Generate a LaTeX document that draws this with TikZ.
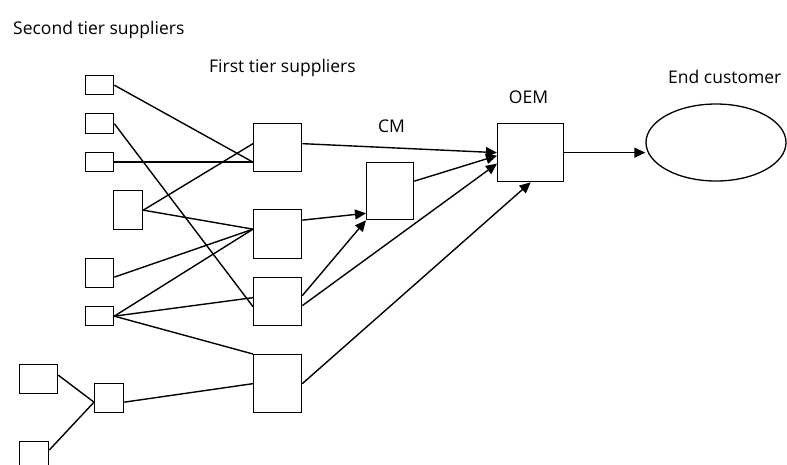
\documentclass[tikz,border=0pt]{standalone}
\usepackage{fontspec}
\setmainfont{Open Sans}
\usetikzlibrary{arrows.meta,shapes.geometric}
\tikzset{
  box/.style={draw,line width=1.3pt,inner sep=0pt,anchor=north west},
  smallbox/.style={box,minimum width=28pt,minimum height=19pt},
  midbox/.style={box,minimum width=28pt,minimum height=29pt},
  tierbox/.style={box,minimum width=48pt,minimum height=48pt},
  link/.style={line width=1.4pt},
  arrow/.style={-{Triangle[length=11pt,width=10pt]},line width=1.4pt},
  lbl/.style={font=\fontsize{17.5}{21}\selectfont,inner sep=0pt}
}

\begin{document}
\begin{tikzpicture}[x=1pt,y=-1pt]
\useasboundingbox (0,0) rectangle (787,464);
\clip (0,0) rectangle (787,464);

% Labels
\node[lbl,anchor=base west] (secondLbl) at (13,34.3) {Second tier suppliers};
\node[lbl,anchor=base west] (firstLbl) at (209,72.7) {First tier suppliers};
\node[lbl,anchor=base] (cmLbl) at (391.5,132) {CM};
\node[lbl,anchor=base] (oemLbl) at (528.5,103) {OEM};
\node[lbl,anchor=base west] (custLbl) at (668,83) {End customer};

% Second tier
\node[smallbox] (s1) at (85,75) {};
\node[smallbox,minimum height=20pt] (s2) at (85,113) {};
\node[smallbox] (s3) at (85,152) {};
\node[box,minimum width=29pt,minimum height=39pt] (s4) at (113,190) {};
\node[midbox] (s5) at (85,258) {};
\node[smallbox] (s6) at (85,306) {};
\node[box,minimum width=38pt,minimum height=29pt] (a1) at (19,364) {};
\node[midbox,minimum width=29pt,minimum height=30pt] (a2) at (19,441) {};
\node[midbox,minimum width=29pt] (m) at (94,383) {};

% First tier
\node[tierbox] (t1) at (253,123) {};
\node[tierbox,minimum height=49pt] (t2) at (253,209) {};
\node[tierbox] (t3) at (253,277) {};
\node[tierbox,minimum height=58pt] (t4) at (253,354) {};

% CM, OEM, customer
\node[box,minimum width=47pt,minimum height=57pt] (cm) at (366,162) {};
\node[box,minimum width=66pt,minimum height=58pt] (oem) at (497,123) {};
\node[draw,ellipse,line width=1.3pt,inner sep=0pt,
  minimum width=140pt,minimum height=77pt] (cust) at (716,142.5) {};

% Second tier -> first tier
\draw[link] (s1.east) -- (s3.east -| t1.west);
\draw[link] (s3.east) -- (s3.east -| t1.west);
\draw[link] (s2.east) -- ([yshift=-5pt]t3.west);
\draw[link] (s4.east) -- ([yshift=4pt]t1.west);
\draw[link] (s4.east) -- ([yshift=5pt]t2.west);
\draw[link] ([yshift=-4pt]s5.east) -- ([yshift=5pt]t2.west);
\draw[link] (s6.east) -- ([yshift=5pt]t2.west);
\draw[link] (s6.east) -- ([yshift=4pt]t3.west);
\draw[link] (s6.east) -- (t4.north west);
\draw[link] ([yshift=4pt]a1.east) -- ([yshift=-4pt]m.west);
\draw[link] ([yshift=-9pt]a2.north east) -- ([yshift=-4pt]m.west);
\draw[link] ([yshift=-4pt]m.east) -- (t4.west);

% First tier -> CM / OEM -> customer
\draw[arrow] ([yshift=4pt]t1.east) -- (oem.west);
\draw[arrow] ([yshift=14pt]t2.east) -- ([yshift=7pt]cm.south west);
\draw[arrow] ([yshift=6pt]t3.east) -- (cm.south west);
\draw[arrow] ([yshift=-4pt]t3.east) -- ([yshift=-11pt]oem.west);
\draw[arrow] ([yshift=10pt]cm.east) -- ([yshift=-3pt]oem.west);
\draw[arrow] (t4.east) -- (oem.south);
\draw[arrow] (oem.east) -- (oem.east -| cust.west);

\end{tikzpicture}
\end{document}
